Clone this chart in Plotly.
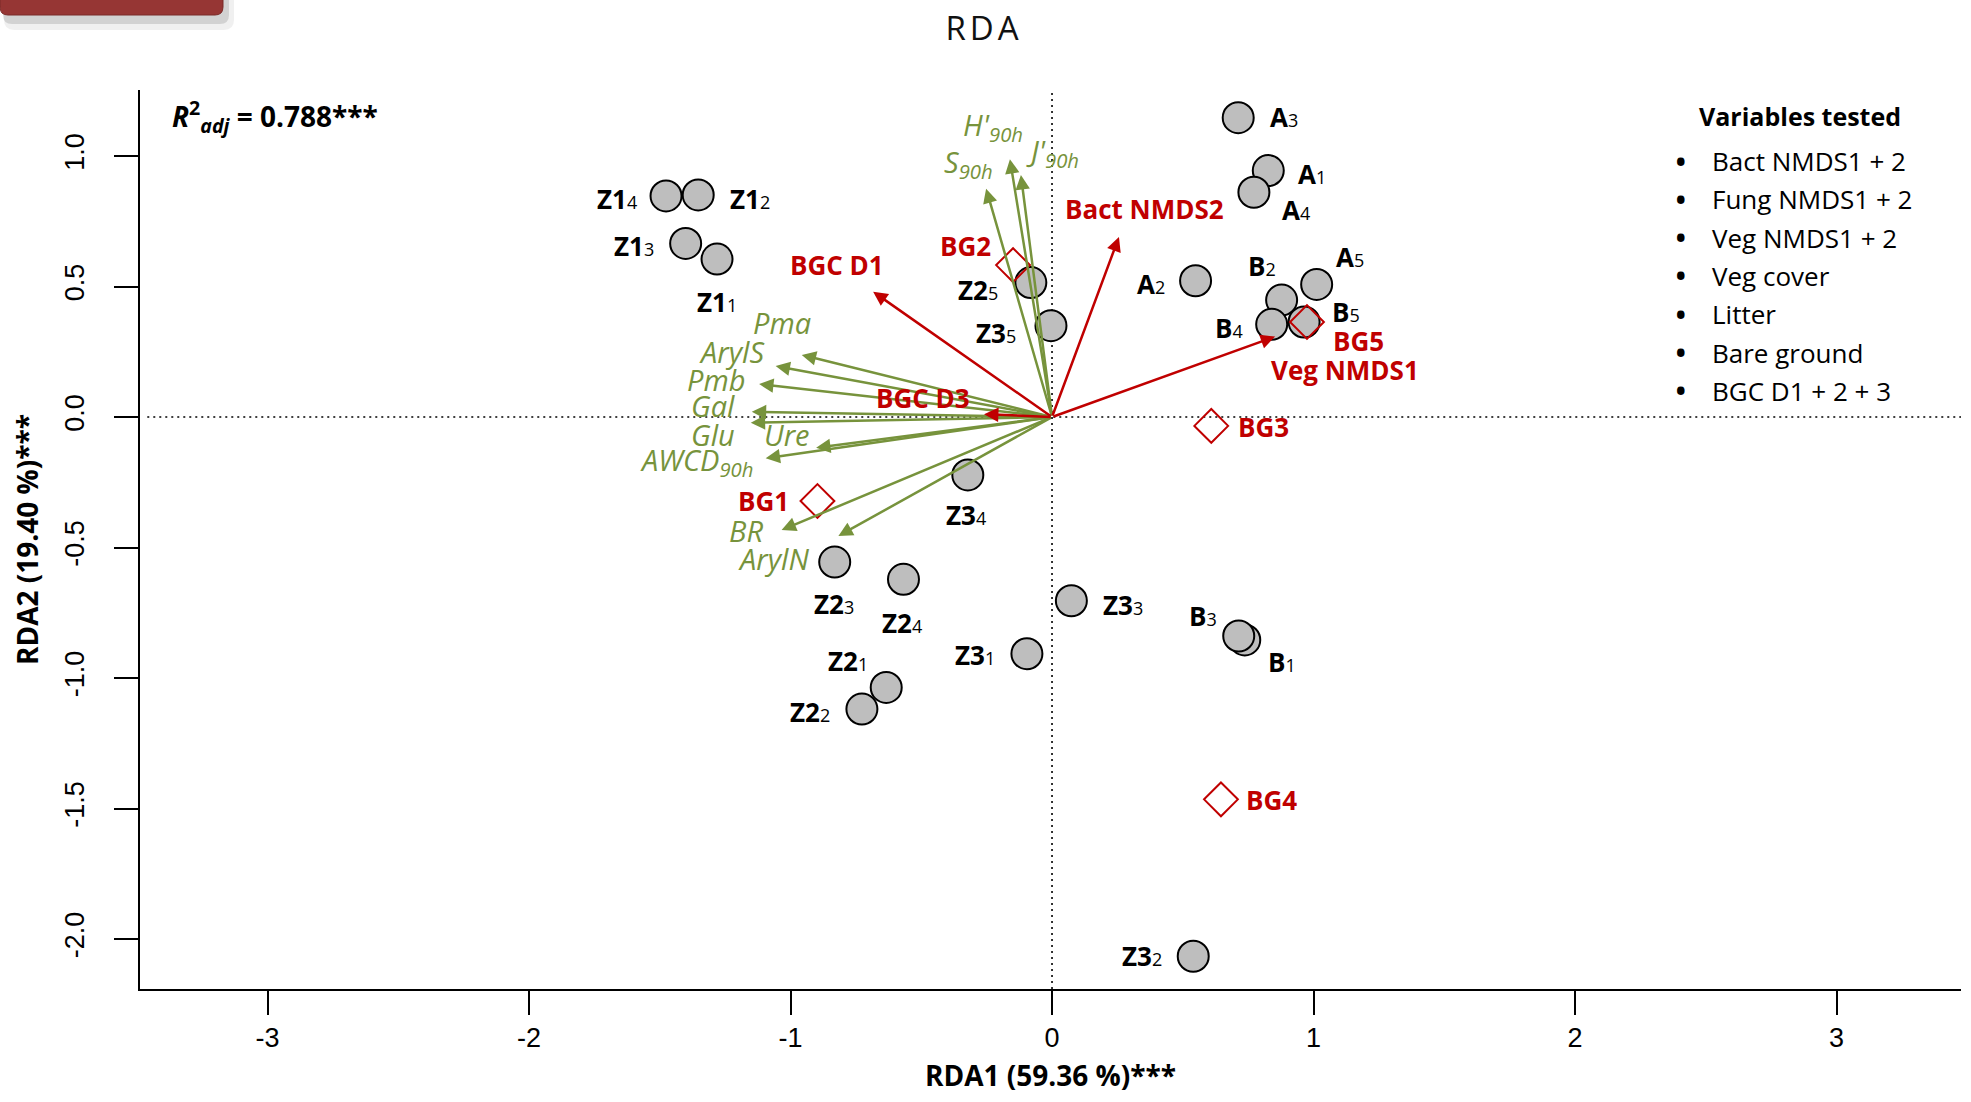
import plotly.graph_objects as go

# ---------------- data ----------------
title_text = "RDA"
x_title = "RDA1 (59.36 %)***"
y_title = "RDA2 (19.40 %)***"

x_tickvals = [-3, -2, -1, 0, 1, 2, 3]
x_ticktext = ["-3", "-2", "-1", "0", "1", "2", "3"]
y_tickvals = [-2.0, -1.5, -1.0, -0.5, 0.0, 0.5, 1.0]
y_ticktext = ["-2.0", "-1.5", "-1.0", "-0.5", "0.0", "0.5", "1.0"]

# sites (grey circles)
site_group = ["A", "A", "A", "A", "A", "B", "B", "B", "B", "B",
              "Z1", "Z1", "Z1", "Z1", "Z2", "Z2", "Z2", "Z2", "Z2",
              "Z3", "Z3", "Z3", "Z3", "Z3"]
site_rep = ["1", "2", "3", "4", "5", "1", "2", "3", "5", "4",
            "3", "1", "4", "2", "1", "2", "3", "4", "5",
            "1", "2", "3", "4", "5"]
site_x = [0.827, 0.549, 0.712, 0.772, 1.012, 0.737, 0.878, 0.714, 0.964, 0.840,
          -1.401, -1.281, -1.476, -1.353, -0.634, -0.727, -0.831, -0.568, -0.081,
          -0.096, 0.540, 0.074, -0.322, -0.004]
site_y = [0.944, 0.522, 1.147, 0.861, 0.508, -0.854, 0.448, -0.839, 0.364, 0.355,
          0.665, 0.605, 0.847, 0.851, -1.036, -1.119, -0.556, -0.622, 0.515,
          -0.907, -2.066, -0.704, -0.222, 0.350]

# BG centroids (red open diamonds)
bg_names = ["BG1", "BG2", "BG3", "BG4", "BG5"]
bg_x = [-0.897, -0.149, 0.609, 0.646, 0.975]
bg_y = [-0.322, 0.582, -0.034, -1.465, 0.364]

# response variables (green arrows)
resp_names = ["S<sub>90h</sub>", "H'<sub>90h</sub>", "J'<sub>90h</sub>", "Pma", "ArylS",
              "Pmb", "Gal", "Glu", "Ure", "AWCD<sub>90h</sub>", "BR", "ArylN"]
resp_x = [-0.252, -0.161, -0.119, -0.957, -1.057, -1.120, -1.148, -1.152, -0.902, -1.095, -1.034, -0.817]
resp_y = [0.875, 0.988, 0.927, 0.238, 0.195, 0.126, 0.020, -0.022, -0.118, -0.158, -0.433, -0.456]

# explanatory variables (red arrows)
env_names = ["Bact NMDS2", "BGC D1", "BGC D3", "Veg NMDS1"]
env_x = [0.256, -0.684, -0.260, 0.853]
env_y = [0.690, 0.480, 0.011, 0.308]

r2_value = "0.788"
legend_title = "Variables tested"
legend_items = ["Bact NMDS1 + 2", "Fung NMDS1 + 2", "Veg NMDS1 + 2", "Veg cover",
                "Litter", "Bare ground", "BGC D1 + 2 + 3"]

# ---------------- label placement (anchor, dx px, dy px screen-down) ----------------
site_lab_pos = {
    "A1": ("left", 28, 3), "A2": ("right", -29, 3), "A3": ("left", 30, -1),
    "A4": ("left", 26, 18), "A5": ("left", 17, -27),
    "B1": ("left", 21, 22), "B2": ("center", -20, -34), "B3": ("right", -20, -20),
    "B4": ("right", -27, 4), "B5": ("left", 26, -10),
    "Z11": ("center", 0, 43), "Z12": ("left", 30, 4), "Z13": ("right", -30, 3), "Z14": ("right", -27, 3),
    "Z21": ("center", -38, -26), "Z22": ("right", -30, 3), "Z23": ("center", -1, 42),
    "Z24": ("center", -1, 44), "Z25": ("right", -31, 7),
    "Z31": ("right", -30, 1), "Z32": ("right", -29, 0), "Z33": ("left", 30, 4),
    "Z34": ("center", -2, 40), "Z35": ("right", -33, 7),
}
resp_lab_pos = [("center", -18, -25), ("center", -17, -33), ("center", 32, -23),
                ("right", 11, -32), ("right", -9, -15), ("right", -12, -5),
                ("right", -15, -6), ("right", -14, 12), ("right", -4, -13),
                ("right", -11, 3), ("right", -17, 0), ("right", -27, 22)]
env_lab_pos = [("center", 26, -28), ("center", -36, -27), ("center", -61, -16), ("center", 70, 33)]
bg_lab_pos = [("right", -26, 0), ("right", -20, -19), ("left", 25, 1), ("left", 23, 1), ("left", 24, 19)]

GREEN = "#77933C"
RED = "#C00000"
FONT = "Open Sans"

# plot area geometry (pixels)
W_FIG, H_FIG = 1971, 1102
ML, MR, MT, MB = 140, 10, 90, 113
PW = W_FIG - ML - MR
PH = H_FIG - MT - MB


def pxx(px):
    return (px - ML) / PW


def pxy(py):
    return (H_FIG - MB - py) / PH


fig = go.Figure()

# sites
fig.add_trace(go.Scatter(
    x=site_x, y=site_y, mode="markers",
    marker=dict(size=31, color="#BEBEBE", line=dict(color="black", width=2)),
    hoverinfo="skip", showlegend=False))

# BG centroids
fig.add_trace(go.Scatter(
    x=bg_x, y=bg_y, mode="markers",
    marker=dict(symbol="diamond-open", size=26, color=RED, line=dict(color=RED, width=2)),
    hoverinfo="skip", showlegend=False))

annotations = []

# biplot arrows from the origin (axis-referenced annotations)
for xv, yv in zip(resp_x, resp_y):
    annotations.append(dict(x=xv, y=yv, ax=0, ay=0, xref="x", yref="y", axref="x", ayref="y",
                            text="", showarrow=True, arrowhead=2, arrowsize=1.15,
                            arrowwidth=2.5, arrowcolor=GREEN, standoff=0))
for xv, yv in zip(env_x, env_y):
    annotations.append(dict(x=xv, y=yv, ax=0, ay=0, xref="x", yref="y", axref="x", ayref="y",
                            text="", showarrow=True, arrowhead=2, arrowsize=1.15,
                            arrowwidth=2.5, arrowcolor=RED, standoff=0))


def lab(x, y, text, pos, font):
    anchor, dx, dy = pos
    return dict(x=x, y=y, xref="x", yref="y", text=text, showarrow=False,
                xanchor=anchor, yanchor="middle", xshift=dx, yshift=-dy, font=font)


for g, r, xv, yv in zip(site_group, site_rep, site_x, site_y):
    txt = "<b>%s</b><span style='font-size:18px'>%s</span>" % (g, r)
    annotations.append(lab(xv, yv, txt, site_lab_pos[g + r],
                           dict(family=FONT, size=26, color="black")))

for name, xv, yv, pos in zip(resp_names, resp_x, resp_y, resp_lab_pos):
    annotations.append(lab(xv, yv, "<i>%s</i>" % name, pos,
                           dict(family=FONT, size=29, color=GREEN)))

for name, xv, yv, pos in zip(env_names, env_x, env_y, env_lab_pos):
    annotations.append(lab(xv, yv, "<b>%s</b>" % name, pos,
                           dict(family=FONT, size=26, color=RED)))

for name, xv, yv, pos in zip(bg_names, bg_x, bg_y, bg_lab_pos):
    annotations.append(lab(xv, yv, "<b>%s</b>" % name, pos,
                           dict(family=FONT, size=26, color=RED)))

# R2 adj
annotations.append(dict(x=pxx(170), y=pxy(117), xref="paper", yref="paper",
                        text="<b><i>R</i><sup>2</sup><sub><i>adj</i></sub> = %s***</b>" % r2_value,
                        showarrow=False, xanchor="left", yanchor="middle",
                        font=dict(family=FONT, size=28, color="black")))

# variables tested box
annotations.append(dict(x=pxx(1800), y=pxy(116), xref="paper", yref="paper",
                        text="<b>%s</b>" % legend_title, showarrow=False,
                        xanchor="center", yanchor="middle",
                        font=dict(family=FONT, size=25, color="black")))
for i, item in enumerate(legend_items):
    yy = pxy(161 + 38.3 * i)
    annotations.append(dict(x=pxx(1681), y=yy, xref="paper", yref="paper", text="\u2022",
                            showarrow=False, xanchor="center", yanchor="middle",
                            font=dict(family=FONT, size=36, color="black")))
    annotations.append(dict(x=pxx(1710), y=yy, xref="paper", yref="paper", text=item,
                            showarrow=False, xanchor="left", yanchor="middle",
                            font=dict(family=FONT, size=26, color="black")))

shapes = [
    dict(type="line", xref="x", yref="paper", x0=0, x1=0, y0=0, y1=1,
         line=dict(color="black", width=1.6, dash="2px,4px"), layer="below"),
    dict(type="line", xref="paper", yref="y", x0=0.004, x1=1, y0=0, y1=0,
         line=dict(color="black", width=1.6, dash="2px,4px"), layer="below"),
]


def rrect(x0, y0, x1, y1, r):
    return ("M%f,%f L%f,%f L%f,%f Q%f,%f %f,%f L%f,%f Q%f,%f %f,%f Z" % (
        pxx(x0), pxy(y0), pxx(x1), pxy(y0), pxx(x1), pxy(y1 - r),
        pxx(x1), pxy(y1), pxx(x1 - r), pxy(y1), pxx(x0 + r), pxy(y1),
        pxx(x0), pxy(y1), pxx(x0), pxy(y1 - r)))


# decorative slide tab (top-left)
shapes.append(dict(type="path", xref="paper", yref="paper", path=rrect(4, -20, 234, 30, 10),
                   fillcolor="rgba(0,0,0,0.06)", line=dict(width=0), layer="above"))
shapes.append(dict(type="path", xref="paper", yref="paper", path=rrect(3, -20, 229, 24, 9),
                   fillcolor="rgba(0,0,0,0.12)", line=dict(width=0), layer="above"))
shapes.append(dict(type="path", xref="paper", yref="paper", path=rrect(0, -20, 223, 15, 8),
                   fillcolor="#963634", line=dict(color="#7a2a28", width=1), layer="above"))

fig.update_layout(
    width=W_FIG, height=H_FIG,
    margin=dict(l=ML, r=MR, t=MT, b=MB, pad=0),
    paper_bgcolor="white", plot_bgcolor="white",
    showlegend=False,
    title=dict(text="<span style='letter-spacing:4px'>%s</span>" % title_text,
               x=984 / W_FIG, y=1 - 28 / H_FIG, xanchor="center", yanchor="middle",
               font=dict(family=FONT, size=33, color="#111111")),
    annotations=annotations,
    shapes=shapes,
)

fig.update_xaxes(
    range=[-3.4876, 3.476], tickmode="array", tickvals=x_tickvals, ticktext=x_ticktext,
    showgrid=False, zeroline=False, showline=True, linecolor="black", linewidth=2,
    ticks="outside", ticklen=24, tickwidth=1.5, tickcolor="black",
    tickfont=dict(family="Liberation Sans", size=27, color="black"),
    title=dict(text="<b>%s</b>" % x_title, font=dict(family=FONT, size=28, color="black"), standoff=14),
    automargin=False, fixedrange=True)

fig.update_yaxes(
    range=[-2.1916, 1.2529], tickmode="array", tickvals=y_tickvals, ticktext=y_ticktext,
    showgrid=False, zeroline=False, showline=True, linecolor="black", linewidth=2,
    ticks="outside", ticklen=24, tickwidth=1.5, tickcolor="black", tickangle=-90,
    ticklabelstandoff=19,
    tickfont=dict(family="Liberation Sans", size=27, color="black"),
    title=dict(text="<b>%s</b>" % y_title, font=dict(family=FONT, size=28, color="black"), standoff=13),
    automargin=False, fixedrange=True)

fig.write_html("out.html", config={"displayModeBar": False},
               post_script="document.body.style.margin='0px';")
